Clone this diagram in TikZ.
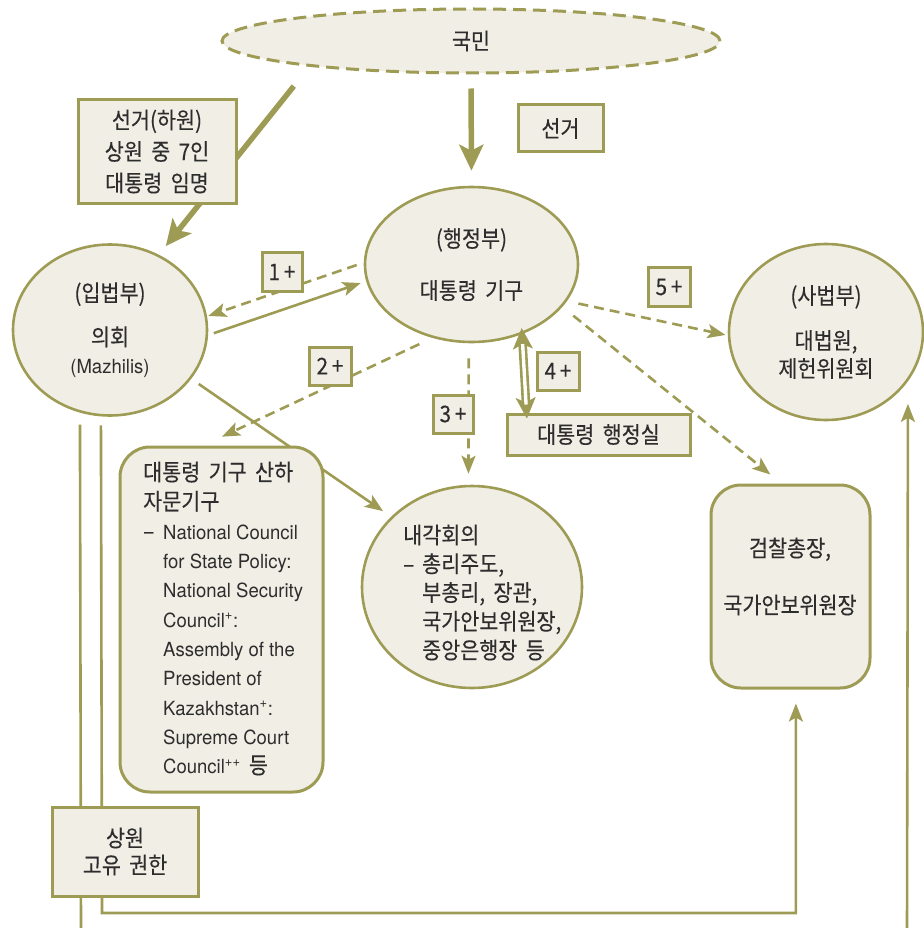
\documentclass[tikz,border=0pt]{standalone}
\usepackage{fontspec}
\setmainfont{Noto Sans CJK KR}[FakeStretch=0.9, WordSpace=1.8, FakeBold=0.25]
\newfontfamily\lat{TeX Gyre Heros}[FakeStretch=0.95]
\usetikzlibrary{arrows.meta,shapes.geometric,backgrounds}
\definecolor{olv}{RGB}{158,156,84}
\definecolor{fil}{RGB}{241,238,230}
\definecolor{ink}{RGB}{45,45,45}
\newcommand{\lt}[1]{{\lat\fontsize{19.5}{19.5}\selectfont #1}}
\begin{document}
\begin{tikzpicture}[x=1pt,y=-1pt,
  every node/.style={text=ink, font=\fontsize{23}{28}\selectfont},
  ell/.style={ellipse, draw=olv, fill=fil, line width=2.6pt, inner sep=0, align=center},
  lbox/.style={rectangle, draw=olv, fill=fil, line width=3pt, inner sep=0, align=center},
  rbox/.style={rectangle, rounded corners=30pt, draw=olv, fill=fil, line width=3pt, inner sep=0},
  lbl/.style={inner sep=0},
  con/.style={draw=olv, line width=2.6pt},
  dsh/.style={con, dash pattern=on 10pt off 6pt},
  arr/.style={-{Stealth[length=18pt,width=14pt,inset=4pt]}},
  bigarr/.style={-{Stealth[length=26pt,width=24pt,inset=6pt]}},
  dblarr/.style={{Stealth[length=21pt,width=20pt,inset=5pt]}-{Stealth[length=21pt,width=20pt,inset=5pt]}}
]
\useasboundingbox (0,0) rectangle (923,928);

% main nodes
\node[ell, dash pattern=on 13pt off 7pt, line width=3pt, minimum width=498pt, minimum height=64pt] (people) at (471,41) {국민};
\node[ell, minimum width=213pt, minimum height=155pt] (exec) at (471.5,264.5) {(행정부)\\[24pt]대통령 기구};
\node[ell, minimum width=194pt, minimum height=171pt] (legis) at (110,330) {(입법부)\\[16pt]의회\\\lt{(Mazhilis)}};
\node[ell, minimum width=194pt, minimum height=176pt] (jud) at (826,332) {(사법부)\\[17pt]대법원,\\제헌위원회};
\node[ell, minimum width=220pt, minimum height=202pt] (cab) at (472,587) {};
\node[lbl, anchor=west, align=left, font=\fontsize{23}{28.75}\selectfont] (cabT) at (403,592.5)
  {내각회의\\\makebox[19pt][l]{–}총리주도,\\\hspace*{19pt}부총리, 장관,\\\hspace*{19pt}국가안보위원장,\\\hspace*{19pt}중앙은행장 등};
\node[rbox, minimum width=203pt, minimum height=345pt] (advis) at (221.5,619.5) {};
\node[lbl, anchor=west, align=left, font=\fontsize{23}{29.3}\selectfont] (advisT) at (143,618.5)
  {대통령 기구 산하\\자문기구\\\makebox[20pt][l]{–}\lt{National Council}\\\hspace*{20pt}\lt{for State Policy:}\\\hspace*{20pt}\lt{National Security}\\\hspace*{20pt}\lt{Council\textsuperscript{+}:}\\\hspace*{20pt}\lt{Assembly of the}\\\hspace*{20pt}\lt{President of}\\\hspace*{20pt}\lt{Kazakhstan\textsuperscript{+}:}\\\hspace*{20pt}\lt{Supreme Court}\\\hspace*{20pt}\lt{Council\textsuperscript{++}} 등};
\node[rbox, minimum width=159pt, minimum height=203pt] (pros) at (790.5,586.5) {};
\node[lbl, align=center, font=\fontsize{23}{57}\selectfont] (prosT) at (790,576.5) {검찰총장,\\국가안보위원장};
\node[lbox, minimum width=183pt, minimum height=41pt] (office) at (598.5,434.5) {대통령 행정실};

% label boxes
\node[lbox, minimum width=158pt, minimum height=103pt, font=\fontsize{23}{31.5}\selectfont] (vote1) at (157,151.5) {선거(하원)\\상원 중 7인\\대통령 임명};
\node[lbox, minimum width=85pt, minimum height=47pt] (vote2) at (560.5,128.5) {선거};
\node[lbox, minimum width=40pt, minimum height=39pt] (k1) at (282,272) {1\,+};
\node[lbox, minimum width=42pt, minimum height=38pt] (k2) at (330,366) {2\,+};
\node[lbox, minimum width=40pt, minimum height=38pt] (k3) at (453,414) {3\,+};
\node[lbox, minimum width=42pt, minimum height=38pt] (k4) at (558,371) {4\,+};
\node[lbox, minimum width=42pt, minimum height=39pt] (k5) at (669,287) {5\,+};
\node[lbox, minimum width=146pt, minimum height=89pt, font=\fontsize{23}{27}\selectfont] (senate) at (125,851.5) {상원\\고유 권한};

\coordinate (bl1) at (81,930);
\coordinate (sb) at (102,913);
\coordinate (br) at (907,930);

\begin{scope}[on background layer]
\draw[con, line width=5.5pt, bigarr, shorten <=25pt, shorten >=11pt] (people.189.3) -- (legis.57.4);
\draw[con, line width=5.5pt, bigarr, shorten <=14pt, shorten >=15pt] (people.south) -- (exec.north);
\draw[dsh, arr, shorten <=7.5pt, shorten >=1.3pt] (exec.179) -- (legis.8.7);
\draw[con, arr, shorten <=6pt, shorten >=5.8pt] (legis.357.6) -- (exec.189.1);
\draw[dsh, arr, shorten <=14.5pt, shorten >=20.8pt] (exec.242) -- (advis.96.06);
\draw[dsh, arr, shorten <=15pt, shorten >=11pt] (exec.268) -- (cab.92);
\draw[dsh, arr, shorten <=11.7pt, shorten >=2.3pt] (exec.339.8) -- (jud.182);
\draw[dsh, arr, shorten <=14pt, shorten >=14.3pt] (exec.335) -- (pros.95.3);
\draw[con, arr, shorten <=9pt, shorten >=9.8pt] (legis.329.4) -- (cab.139.8);
\draw[con, shorten <=12pt] (legis.250.4) -- (bl1);
\draw[con, arr, shorten <=9pt, shorten >=14pt] (legis.264.6) -- (sb) -| (pros.273.1);
\draw[con, arr, shorten >=22.6pt] (br) -- (jud.329.1);
\end{scope}

% double arrow 4+
\draw[olv, line width=0.5pt, dblarr, shorten <=-6pt, shorten >=-6pt] (exec.306.5) -- (office.163.96);
\draw[olv, line width=2.6pt, double=white, double distance=3.4pt, shorten <=10pt, shorten >=8pt] (exec.306.5) -- (office.163.96);
\end{tikzpicture}
\end{document}
